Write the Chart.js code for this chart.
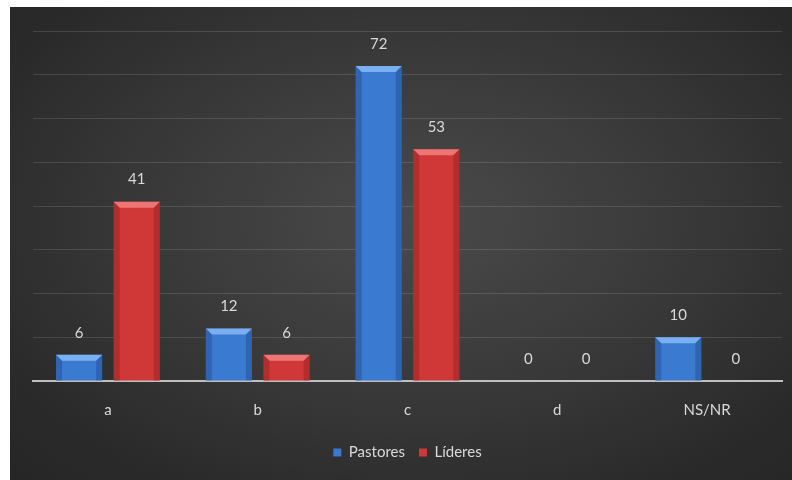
<!DOCTYPE html>
<html>
<head>
<meta charset="utf-8">
<script src="https://cdn.jsdelivr.net/npm/chart.js@4.4.0/dist/chart.umd.min.js"></script>
<style>
  html, body { margin: 0; padding: 0; background: #ffffff; }
  #frame {
    position: absolute; left: 10px; top: 7px; width: 782px; height: 473px;
    background: radial-gradient(ellipse 75% 80% at 52% 45%, #4a4a4a 0%, #393939 45%, #2a2a2a 80%, #252525 100%);
  }
  canvas { display: block; }
</style>
</head>
<body>
<div id="frame"><canvas id="chart" width="782" height="473"></canvas></div>
<script>
const categories = ['a', 'b', 'c', 'd', 'NS/NR'];
const pastores = [6, 12, 72, 0, 10];
const lideres = [41, 6, 53, 0, 0];
const seriesNames = ['Pastores', 'Líderes'];

const FONT = 'Lato, "Open Sans", sans-serif';
const TEXT = '#d9d9d9';

// Bevelled bar faces: light top facet and shaded side facets
const bevel = {
  id: 'bevel',
  afterDatasetsDraw(chart) {
    const ctx = chart.ctx;
    const tones = [
      { top: 'rgba(150,200,255,0.7)', side: 'rgba(20,50,110,0.3)' },
      { top: 'rgba(255,150,150,0.65)', side: 'rgba(110,20,20,0.3)' }
    ];
    chart.data.datasets.forEach((ds, i) => {
      chart.getDatasetMeta(i).data.forEach(bar => {
        const h = bar.base - bar.y;
        if (h < 1) return;
        const l = bar.x - bar.width / 2, r = bar.x + bar.width / 2;
        const t = bar.y, b = bar.base;
        const d = Math.min(6, h / 2);
        ctx.save();
        ctx.fillStyle = tones[i].top;
        ctx.beginPath();
        ctx.moveTo(l, t); ctx.lineTo(r, t); ctx.lineTo(r - d, t + d); ctx.lineTo(l + d, t + d);
        ctx.closePath(); ctx.fill();
        ctx.fillStyle = tones[i].side;
        ctx.beginPath();
        ctx.moveTo(l, t); ctx.lineTo(l + d, t + d); ctx.lineTo(l + d, b); ctx.lineTo(l, b);
        ctx.closePath(); ctx.fill();
        ctx.beginPath();
        ctx.moveTo(r, t); ctx.lineTo(r - d, t + d); ctx.lineTo(r - d, b); ctx.lineTo(r, b);
        ctx.closePath(); ctx.fill();
        ctx.restore();
      });
    });
  }
};

// Value labels above each bar
const valueLabels = {
  id: 'valueLabels',
  afterDatasetsDraw(chart) {
    const ctx = chart.ctx;
    ctx.save();
    ctx.font = '15px ' + FONT;
    ctx.fillStyle = TEXT;
    ctx.textAlign = 'center';
    ctx.textBaseline = 'middle';
    chart.data.datasets.forEach((ds, i) => {
      chart.getDatasetMeta(i).data.forEach((bar, j) => {
        ctx.fillText(String(ds.data[j]), bar.x, bar.y - 22);
      });
    });
    ctx.restore();
  }
};

const blueFill = '#3a7ad0';
const redFill = '#d03838';

new Chart(document.getElementById('chart'), {
  type: 'bar',
  data: {
    labels: categories,
    datasets: [
      { label: seriesNames[0], data: pastores, backgroundColor: blueFill, borderWidth: 0 },
      { label: seriesNames[1], data: lideres, backgroundColor: redFill, borderWidth: 0 }
    ]
  },
  options: {
    responsive: false,
    animation: false,
    layout: { padding: { left: 23, right: 10, top: 24, bottom: 10 } },
    datasets: { bar: { categoryPercentage: 0.77, barPercentage: 0.8 } },
    scales: {
      x: {
        grid: { display: false },
        border: { color: '#bfbfbf', width: 2 },
        ticks: { color: TEXT, font: { family: FONT, size: 15 }, padding: 12 }
      },
      y: {
        min: 0, max: 80,
        ticks: { display: false, stepSize: 10 },
        border: { display: false },
        grid: { color: 'rgba(255,255,255,0.13)', lineWidth: 1, drawTicks: false }
      }
    },
    plugins: {
      legend: {
        position: 'bottom',
        labels: {
          color: TEXT, font: { family: FONT, size: 15 },
          boxWidth: 8, boxHeight: 8, padding: 14
        }
      },
      tooltip: { enabled: false }
    }
  },
  plugins: [bevel, valueLabels]
});
</script>
</body>
</html>
